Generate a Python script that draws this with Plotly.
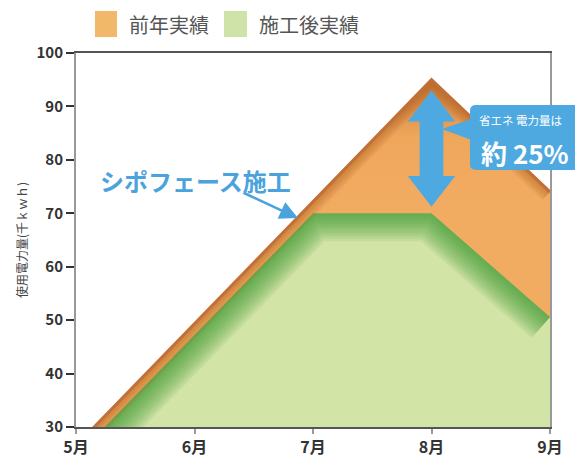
import plotly.graph_objects as go

# ---- data ----
months = ["5月", "6月", "7月", "8月", "9月"]
prev_year = [26.5, 49.3, 72.2, 95.0, 74.0]      # 前年実績
after_work = [24.5, 47.2, 70.0, 70.0, 50.6]     # 施工後実績
y_ticks = [30, 40, 50, 60, 70, 80, 90, 100]
legend_names = ["前年実績", "施工後実績"]
y_title = "使用電力量(千ｋｗｈ)"
callout_line1 = "省エネ 電力量は"
callout_line2 = "約 25%"
work_label = "シポフェース施工"

x = list(range(len(months)))
y_min, y_max = y_ticks[0], y_ticks[-1]

ORANGE = "#f2ac62"
ORANGE_DARK = "#c27538"
BROWN = "#c07038"
GREEN_LIGHT = "#d3e4a7"
BLUE = "#4ea9e1"
FONT = "Noto Sans CJK JP, Noto Sans, sans-serif"

fig = go.Figure()

# green area (light base)
fig.add_trace(go.Scatter(x=x, y=after_work, mode="lines", fill="tozeroy",
                         fillcolor=GREEN_LIGHT, line=dict(width=0),
                         showlegend=False, hoverinfo="skip"))
# green edge shading (soft dark band)
for w in range(56, 0, -5):
    fig.add_trace(go.Scatter(x=x, y=after_work, mode="lines",
                             line=dict(width=w, color="rgba(55,148,45,0.095)"),
                             showlegend=False, hoverinfo="skip"))
# base for orange band
fig.add_trace(go.Scatter(x=x, y=after_work, mode="lines", line=dict(width=0),
                         showlegend=False, hoverinfo="skip"))
# orange band between green and orange
fig.add_trace(go.Scatter(x=x, y=prev_year, mode="lines", fill="tonexty",
                         fillgradient=dict(type="vertical", start=70, stop=96,
                                           colorscale=[[0, ORANGE], [0.55, "#efa75c"], [1, ORANGE_DARK]]),
                         line=dict(width=0), showlegend=False, hoverinfo="skip"))
# orange edge shading
for w in range(22, 0, -4):
    fig.add_trace(go.Scatter(x=x, y=prev_year, mode="lines",
                             line=dict(width=w, color="rgba(170,90,30,0.11)"),
                             showlegend=False, hoverinfo="skip"))
# white cover above the orange curve
fig.add_trace(go.Scatter(x=x, y=prev_year, mode="lines", line=dict(width=0),
                         showlegend=False, hoverinfo="skip"))
fig.add_trace(go.Scatter(x=x, y=[y_max] * len(x), mode="lines", fill="tonexty",
                         fillcolor="white", line=dict(width=0),
                         showlegend=False, hoverinfo="skip"))
# brown stroke on top of orange
fig.add_trace(go.Scatter(x=x, y=prev_year, mode="lines",
                         line=dict(width=3, color=BROWN),
                         showlegend=False, hoverinfo="skip"))

# ---- legend (squares + text) ----
shapes = []
ann = []
legend_cols = [("#f0b868", 0.040, 0.0865, 0.1076), ("#cfe3a8", 0.3122, 0.3608, 0.3819)]
for name, (c, x0, x1, tx) in zip(legend_names, legend_cols):
    shapes.append(dict(type="rect", xref="paper", yref="paper", x0=x0, x1=x1,
                       y0=1.0428, y1=1.1123, fillcolor=c, line=dict(width=0), layer="above"))
    ann.append(dict(xref="paper", yref="paper", x=tx, y=1.0749, text=name,
                    showarrow=False, xanchor="left", yanchor="middle",
                    font=dict(size=20, color="#555555", family=FONT)))

# ---- double-headed arrow at 8月 ----
ax_c = x[3]
top = prev_year[3] - 2.0
bot = after_work[3] + 1.2
hs, hh, hl = 0.10, 0.20, 5.8
p = [
    (ax_c, top), (ax_c + hh, top - hl), (ax_c + hs, top - hl), (ax_c + hs, bot + hl),
    (ax_c + hh, bot + hl), (ax_c, bot), (ax_c - hh, bot + hl), (ax_c - hs, bot + hl),
    (ax_c - hs, top - hl), (ax_c - hh, top - hl),
]
path = "M " + " L ".join(f"{px},{py}" for px, py in p) + " Z"
shapes.append(dict(type="path", xref="x", yref="y", path=path, fillcolor=BLUE,
                   line=dict(width=0), layer="above"))

# ---- callout box ----
x0, x1, y0, y1 = 0.8312, 1.12, 0.6872, 0.861
rx, ry = 0.013, 0.016
box = (f"M {x0+rx},{y1} L {x1},{y1} L {x1},{y0} L {x0+rx},{y0} "
       f"Q {x0},{y0} {x0},{y0+ry} L {x0},{y1-ry} Q {x0},{y1} {x0+rx},{y1} Z")
shapes.append(dict(type="path", xref="paper", yref="paper", path=box,
                   fillcolor=BLUE, line=dict(width=0), layer="above"))
tri = "M 0.834,0.8236 L 0.834,0.7674 L 0.7722,0.7968 Z"
shapes.append(dict(type="path", xref="paper", yref="paper", path=tri,
                   fillcolor=BLUE, line=dict(width=0), layer="above"))
ann.append(dict(xref="paper", yref="paper", x=0.846, y=0.822, text=callout_line1,
                showarrow=False, xanchor="left", yanchor="middle",
                font=dict(size=11.5, color="white", family=FONT)))
ann.append(dict(xref="paper", yref="paper", x=0.851, y=0.735, text=callout_line2,
                showarrow=False, xanchor="left", yanchor="middle",
                font=dict(size=26, color="white", family=FONT, weight="bold")))

# ---- work label and arrow ----
ann.append(dict(xref="x", yref="y", x=1.005, y=76.1, text=work_label, showarrow=False,
                xanchor="center", yanchor="middle",
                font=dict(size=24, color="#4aa3dc", family=FONT, weight="bold")))
ann.append(dict(xref="x", yref="y", x=1.873, y=69.1, text="", showarrow=True,
                ax=-56, ay=-26, arrowhead=2, arrowsize=1.4, arrowwidth=2.6,
                arrowcolor="#4aa3dc"))

# page has an 8px body margin, so the figure is sized to fit the window
fig.update_layout(
    width=575, height=452,
    margin=dict(l=68, r=33, t=45, b=33, autoexpand=False),
    paper_bgcolor="white", plot_bgcolor="white",
    font=dict(family=FONT, color="#333333"),
    shapes=shapes, annotations=ann, showlegend=False,
)
fig.update_xaxes(range=[x[0], x[-1]], tickvals=x, ticktext=months, automargin=False,
                 showgrid=False, zeroline=False, showline=True, linecolor="#555555",
                 linewidth=1.5, mirror=True, ticks="outside", ticklen=5,
                 tickcolor="#999999", tickwidth=1.5,
                 tickfont=dict(size=16, color="#333333", family=FONT, weight="bold"))
fig.update_yaxes(range=[y_min, y_max], tickvals=y_ticks, showgrid=False, zeroline=False,
                 automargin=False,
                 showline=True, linecolor="#999999", linewidth=2, mirror=True,
                 ticks="outside", ticklen=8, tickcolor="#333333", tickwidth=1.5,
                 tickfont=dict(size=15, color="#333333", family=FONT, weight="bold"),
                 title=dict(text=y_title, font=dict(size=12, color="#444444", family=FONT),
                            standoff=6))

fig.write_html("out.html")
